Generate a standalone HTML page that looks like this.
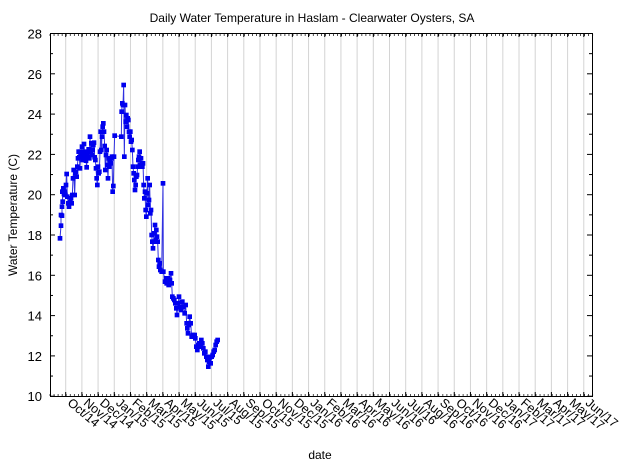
<!DOCTYPE html>
<html><head><meta charset="utf-8"><style>
html,body{margin:0;padding:0;background:#fff;}
svg{display:block;font-family:"Liberation Sans",sans-serif;}
</style></head><body>
<svg width="624" height="468" viewBox="0 0 624 468" xmlns="http://www.w3.org/2000/svg">
<defs>
<marker id="m" markerUnits="userSpaceOnUse" markerWidth="16" markerHeight="16" refX="8" refY="8" viewBox="0 0 16 16"><rect x="1" y="1" width="14" height="14" fill="#0000ee"/></marker>
</defs>
<rect width="624" height="468" fill="#fff"/>
<text x="312" y="22" font-size="12" text-anchor="middle">Daily Water Temperature in Haslam - Clearwater Oysters, SA</text>
<g id="grid" stroke="#d4d4d4" stroke-width="1"></g>
<g stroke="#000" stroke-width="1" fill="none">
<rect x="50.5" y="33.5" width="542" height="363"/>
</g>
<g id="ticks" stroke="#000" stroke-width="1"></g>
<g id="ylab" font-size="13" text-anchor="end"></g>
<g id="xlab" font-size="12.5"></g>
<text x="17" y="215" font-size="12" text-anchor="middle" transform="rotate(-90 17 215)">Water Temperature (C)</text>
<text x="320" y="459" font-size="12" text-anchor="middle">date</text>
<g transform="translate(40 70) scale(0.33333)">
<polyline fill="none" stroke="#3030e0" stroke-width="3" marker-start="url(#m)" marker-mid="url(#m)" marker-end="url(#m)" points="60,505 63,467 63,435 66,437 66,410 68,395 67,365 70,355 72,372 74,365 76,375 78,345 80,312 82,380 85,400 87,410 90,395 93,385 95,400 97,375 99,325 101,300 104,375 106,310 108,305 110,320 112,290 114,265 116,245 118,262 120,295 122,245 124,258 126,230 128,270 130,250 132,222 134,260 136,245 138,272 140,292 142,250 144,262 146,238 148,265 150,200 152,245 154,220 156,255 158,240 160,225 162,218 164,262 166,270 168,295 170,325 172,345 174,290 176,310 178,305 180,245 182,185 184,240 186,200 188,170 190,160 192,185 194,228 196,300 198,255 200,240 202,285 204,325 206,265 208,290 210,270 212,280 214,265 216,260 218,365 220,348 222,260 224,197 244,200 245,125 247,100 249,105 251,45 253,260 255,105 257,155 259,135 261,170 263,145 265,150 267,185 269,200 271,185 273,215 275,210 277,240 279,290 281,310 283,330 285,360 287,345 289,320 291,315 293,290 295,270 297,260 299,245 301,285 303,265 305,280 307,290 309,280 311,345 313,385 315,365 317,420 319,440 321,370 323,325 325,405 327,390 329,345 331,430 333,420 335,495 337,515 339,535 341,515 343,490 345,465 347,510 349,480 351,500 353,515 355,570 357,590 359,580 361,600 365,605 369,340 370,605 375,635 378,625 380,640 383,625 386,645 390,630 393,610 395,640 397,680 400,685 403,690 406,700 409,715 411,735 414,700 417,680 420,710 423,720 427,695 430,710 434,730 437,705 440,760 442,775 444,790 446,765 449,740 452,760 455,800 458,795 461,800 464,795 466,805 469,830 472,840 475,825 478,820 481,830 484,810 487,820 490,835 493,850 496,845 499,860 502,870 505,890 507,875 510,862 512,880 515,860 518,855 521,845 524,840 527,825 530,815 533,810"/>
</g>
<script>
(function(){
var ns="http://www.w3.org/2000/svg";
function el(p,t,a,txt){var e=document.createElementNS(ns,t);for(var k in a)e.setAttribute(k,a[k]);if(txt)e.textContent=txt;document.getElementById(p).appendChild(e);}
var months=["Oct","Nov","Dec","Jan","Feb","Mar","Apr","May","Jun","Jul","Aug","Sep"];
var x0=65.7,dx=16.19;
for(var i=0;i<33;i++){
 var x=(x0+i*dx);
 el("grid","line",{x1:x,y1:34,x2:x,y2:396});
 el("ticks","line",{x1:x,y1:396,x2:x,y2:392});
 el("ticks","line",{x1:x,y1:33,x2:x,y2:37});
 var m=months[i%12];var yr=14+Math.floor((i+9)/12);
 el("xlab","text",{x:x+1,y:404,transform:"rotate(40 "+(x+1)+" 404)"},m+"/"+yr);
}
for(var j=0;j<=18;j++){
 var y=33.5+j*20.15;
 var major=(j%2==0);
 el("ticks","line",{x1:50,y1:y,x2:major?55:53,y2:y});
 el("ticks","line",{x1:592,y1:y,x2:major?587:589,y2:y});
 if(major) el("ylab","text",{x:42,y:y+5},String(28-j));
}
for(var k=0;k<135;k++){var xx=50+k*4.05;el("ticks","line",{x1:xx,y1:34,x2:xx,y2:36,"stroke-width":0.7});el("ticks","line",{x1:xx,y1:396,x2:xx,y2:394,"stroke-width":0.7});}
})();
</script>
</svg>
</body></html>
